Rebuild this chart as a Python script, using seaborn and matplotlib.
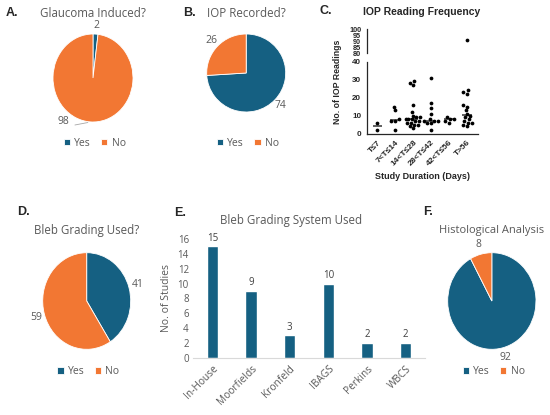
import matplotlib
matplotlib.use("Agg")
import matplotlib.pyplot as plt
import seaborn as sns
import pandas as pd
import numpy as np
import warnings
warnings.filterwarnings("ignore")

# ---------------- data ----------------
pie_labels = ["Yes", "No"]
glaucoma_induced = [2, 98]
iop_recorded = [74, 26]
bleb_grading_used = [41, 59]
histological = [92, 8]

bleb_systems = ["In-House", "Moorfields", "Kronfeld", "IBAGS", "Perkins", "WBCS"]
bleb_counts = [15, 9, 3, 10, 2, 2]

duration_groups = ["T≤7", "7<T≤14", "14<T≤28", "28<T≤42", "42<T≤56", "T>56"]
iop_t7 = [6, 2]
iop_7_14 = [15, 13, 8, 7, 7, 2]
iop_14_28 = [29, 28, 27, 16, 12, 10, 9, 9, 8, 8, 8, 7, 7, 6, 6, 5, 5, 4, 3]
iop_28_42 = [31, 17, 14, 11, 8, 7, 7, 7, 6, 6, 2]
iop_42_56 = [9, 8, 8, 7, 6]
iop_gt56 = [91, 24, 23, 22, 16, 15, 13, 11, 10, 9, 8, 7, 6, 6, 5, 4]

# ---------------- style ----------------
sns.set_style("white")
plt.rcParams["font.family"] = ["Open Sans", "DejaVu Sans"]

BLUE = "#156082"
ORANGE = "#F27733"
GRAY = "#595959"

W, H = 550, 415
fig = plt.figure(figsize=(W / 100, H / 100), dpi=100)


def rect(left, top, width, height):
    return [left / W, 1 - (top + height) / H, width / W, height / H]


def ftext(x, y, s, **kw):
    fig.text(x / W, 1 - y / H, s, va="center", **kw)


def draw_pie(box, values, leg_y):
    ax = fig.add_axes(rect(*box))
    total = sum(values)
    wedges, texts, autotexts = ax.pie(
        values, colors=[BLUE, ORANGE], startangle=90, counterclock=False,
        autopct=lambda p: f"{p * total / 100:.0f}", pctdistance=1.2,
        wedgeprops=dict(edgecolor="white", linewidth=0.6, clip_on=False),
        textprops=dict(color=GRAY, fontsize=7.5))
    ax.set_aspect("auto")
    ax.set_xlim(-1, 1)
    ax.set_ylim(-1, 1)
    ax.axis("off")
    ax.legend(wedges, pie_labels, loc="center", bbox_to_anchor=(0.52, leg_y),
              ncol=2, frameon=False, handlelength=0.6, handleheight=0.6,
              handletextpad=0.4, columnspacing=1.0, fontsize=7.5,
              labelcolor=GRAY)
    return ax, autotexts


# ---- A ----
axA, atA = draw_pie((53, 34, 80, 88), glaucoma_induced, -0.242)
atA[1].set_position((-0.73, -1.0))
axA.annotate("", xy=(-0.06, -1.0), xytext=(-0.52, -1.08),
             arrowprops=dict(arrowstyle="-", color="#a6a6a6", lw=0.6))
ftext(6, 13, "A.", fontsize=9, fontweight="bold", family=["Liberation Sans"])
ftext(93, 13.3, "Glaucoma Induced?", ha="center", fontsize=8.3, color=GRAY)

# ---- B ----
draw_pie((206.7, 34, 79, 78), iop_recorded, -0.40)
ftext(183, 13, "B.", fontsize=9, fontweight="bold", family=["Liberation Sans"])
ftext(246.5, 13.3, "IOP Recorded?", ha="center", fontsize=8.3, color=GRAY)

# ---- D ----
draw_pie((42.7, 252.7, 88, 96.6), bleb_grading_used, -0.232)
ftext(17, 212.3, "D.", fontsize=9, fontweight="bold", family=["Liberation Sans"])
ftext(87, 230.7, "Bleb Grading Used?", ha="center", fontsize=8.3, color=GRAY)

# ---- F ----
draw_pie((447.7, 252.7, 88.3, 96.6), histological, -0.232)
ftext(423, 212, "F.", fontsize=9, fontweight="bold", family=["Liberation Sans"])
ftext(492, 230, "Histological Analysis", ha="center", fontsize=8.0, color=GRAY)

# ---- E: bar chart ----
axE = fig.add_axes(rect(193, 239, 232, 118.7))
dfE = pd.DataFrame({"system": bleb_systems, "count": bleb_counts})
sns.barplot(data=dfE, x="system", y="count", color=BLUE, width=0.3,
            saturation=1, ax=axE)
axE.bar_label(axE.containers[0], padding=2, fontsize=7, color="#404040")
axE.set_xlim(-0.5, 5.5)
axE.set_ylim(0, 16)
axE.set_yticks(range(0, 17, 2))
for s in ["top", "right", "left"]:
    axE.spines[s].set_visible(False)
axE.spines["bottom"].set_color("#d9d9d9")
axE.spines["bottom"].set_linewidth(0.8)
axE.tick_params(axis="both", length=0, labelsize=7, labelcolor=GRAY, pad=3)
axE.tick_params(axis="x", labelsize=7.3, pad=4)
plt.setp(axE.get_xticklabels(), rotation=45, ha="right", rotation_mode="anchor")
axE.set_xlabel("")
axE.set_ylabel("No. of Studies", fontsize=7.5, color=GRAY, labelpad=4)
ftext(174, 213, "E.", fontsize=9, fontweight="bold", family=["Liberation Sans"])
ftext(291.5, 220.7, "Bleb Grading System Used", ha="center", fontsize=8.3,
      color=GRAY)

# ---- C: broken-axis scatter ----
groups = [iop_t7, iop_7_14, iop_14_28, iop_28_42, iop_42_56, iop_gt56]
dfC = pd.DataFrame({
    "duration": np.concatenate([[g] * len(v) for g, v in zip(duration_groups, groups)]),
    "readings": np.concatenate(groups),
})
CFONT = ["Liberation Sans", "DejaVu Sans"]

axCt = fig.add_axes(rect(366.7, 29, 111.3, 24))
axCb = fig.add_axes(rect(366.7, 61.7, 111.3, 72))
for ax in (axCt, axCb):
    sns.boxplot(data=dfC, x="duration", y="readings", order=duration_groups,
                width=0.55, showbox=False, showcaps=False, showfliers=False,
                whiskerprops={"visible": False},
                medianprops={"color": "#444444", "linewidth": 1.2},
                ax=ax)
    sns.swarmplot(data=dfC, x="duration", y="readings", order=duration_groups,
                  color="black", size=2.7, ax=ax, warn_thresh=1)
    ax.set_xlim(-0.6, 5.63)
    ax.set_xlabel("")
    ax.set_ylabel("")
    for s in ["top", "right"]:
        ax.spines[s].set_visible(False)
    for s in ["left", "bottom"]:
        ax.spines[s].set_linewidth(0.9)
    ax.tick_params(axis="y", length=3, width=0.9, labelsize=5.8, pad=1)

axCt.set_ylim(80, 100)
axCt.set_yticks([80, 85, 90, 95, 100])
axCt.spines["bottom"].set_visible(False)
axCt.tick_params(axis="x", bottom=False, labelbottom=False)
axCt.tick_params(axis="y", labelsize=5.2)
for lab in axCt.get_yticklabels():
    lab.set_fontweight("bold")
    lab.set_family(CFONT)

axCb.set_ylim(0, 40)
axCb.set_yticks([0, 10, 20, 30, 40])
for lab in axCb.get_yticklabels():
    lab.set_fontweight("bold")
    lab.set_family(CFONT)
axCb.tick_params(axis="x", length=3, width=0.9, labelsize=6, pad=1)
plt.setp(axCb.get_xticklabels(), rotation=45, ha="right",
         rotation_mode="anchor", fontweight="bold", family=CFONT)
axCb.set_xlabel("Study Duration (Days)", fontsize=6.5, fontweight="bold",
                family=CFONT, labelpad=3)
fig.text(337 / W, 1 - 82 / H, "No. of IOP Readings", rotation=90, ha="center",
         va="center", fontsize=6.3, fontweight="bold", family=CFONT)
ftext(320, 11, "C.", fontsize=9, fontweight="bold", family=["Liberation Sans"])
ftext(422, 12.3, "IOP Reading Frequency", ha="center", fontsize=7.5,
      fontweight="bold", family=CFONT)

fig.savefig("out.png", dpi=100)
